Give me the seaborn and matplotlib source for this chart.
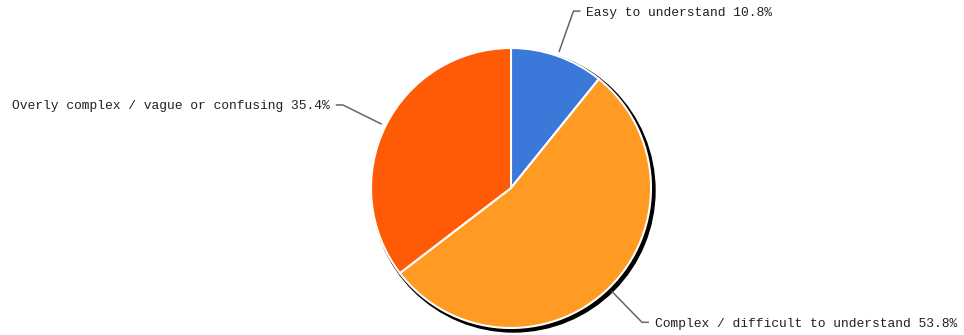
import numpy as np
import matplotlib
matplotlib.use("Agg")
import matplotlib.pyplot as plt
import seaborn as sns
from matplotlib.patches import Circle

categories = ["Easy to understand", "Complex / difficult to understand",
              "Overly complex / vague or confusing"]
values = [10.8, 53.8, 35.4]
colors = ["#3a78d9", "#ff9a22", "#ff5a05"]

sns.set_theme(style="white")
plt.rcParams["font.family"] = ["Liberation Mono", "DejaVu Sans Mono"]

W, H = 964, 335
fig = plt.figure(figsize=(W / 100, H / 100), dpi=100)
ax = fig.add_axes([0, 0, 1, 1])

cx, cy, R = 511, H - 188, 140

# shadow
ax.add_patch(Circle((cx + 2.5, cy - 2.5), R + 1.5, color="black", zorder=0))

wedges, _ = ax.pie(values, colors=colors, startangle=90, counterclock=False,
                   center=(cx, cy), radius=R,
                   wedgeprops=dict(edgecolor="white", linewidth=1.5))
for w in wedges:
    w.set_zorder(1)

total = sum(values)
cum = 0
for cat, v in zip(categories, values):
    mid = 90 - 360 * (cum + v / 2) / total
    cum += v
    a = np.deg2rad(mid)
    x0, y0 = cx + R * 1.03 * np.cos(a), cy + R * 1.03 * np.sin(a)
    x1, y1 = cx + R * 1.34 * np.cos(a), cy + R * 1.34 * np.sin(a)
    side = 1 if np.cos(a) >= 0 else -1
    x2 = x1 + side * 7
    ax.plot([x0, x1, x2], [y0, y1, y1], color="#666666", lw=1.1, zorder=2,
            solid_capstyle="butt")
    ax.text(x2 + side * 6, y1 - 1.5, f"{cat} {v}%", ha="left" if side > 0 else "right",
            va="center", fontsize=9.4, color="#222222")

ax.set_xlim(0, W)
ax.set_ylim(0, H)
ax.set_aspect("equal")
ax.axis("off")
fig.savefig("out.png", dpi=100, facecolor="white")
